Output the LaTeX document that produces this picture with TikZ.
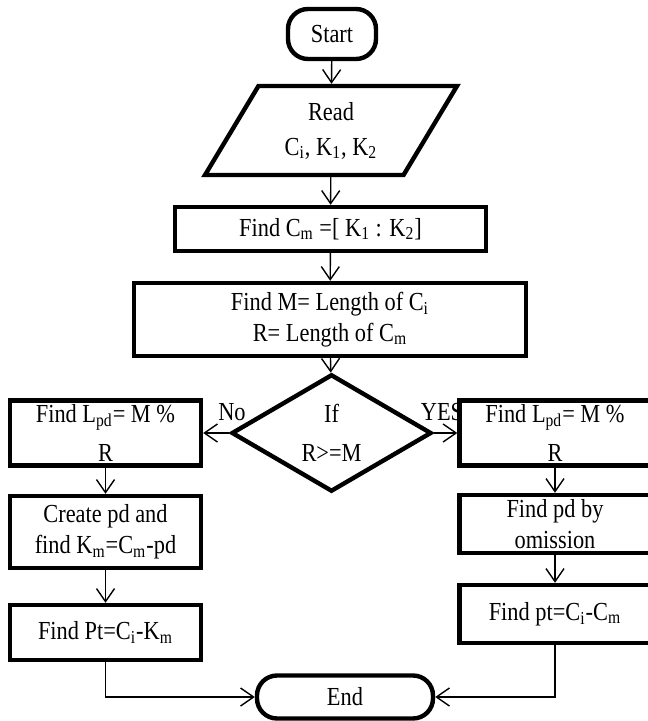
\documentclass[tikz,border=0pt]{standalone}
\usepackage{fontspec}
\setmainfont{Liberation Serif}[FakeStretch=0.86]
\usetikzlibrary{shapes.geometric,arrows.meta}

\tikzset{
  blk/.style={draw, line width=2.2pt, rectangle, align=center, inner sep=2pt},
  term/.style={blk, rounded corners=10pt},
  io/.style={draw, line width=2.2pt, trapezium, trapezium left angle=61, trapezium right angle=119,
             trapezium stretches=true, align=center},
  decide/.style={draw, line width=2.2pt, diamond, align=center, inner sep=0pt},
  flow/.style={line width=0.7pt, -{Straight Barb[length=6.5pt,width=9pt]}},
  lbl/.style={inner sep=0pt}
}

\begin{document}
\begin{tikzpicture}[x=0.5pt,y=-0.5pt,font=\fontsize{13}{15.5}\selectfont]
 \useasboundingbox (0,0) rectangle (647,721);

 \node[term, minimum width=44pt, minimum height=25pt] (start) at (332,34) {Start};
 \node[io, minimum width=127pt, minimum height=44.5pt] (read) at (331,130.5) {Read\\[2pt]C\textsubscript{i}, K\textsubscript{1}, K\textsubscript{2}};
 \node[blk, minimum width=155.5pt, minimum height=22pt] (findcm) at (330.5,229) {Find C\textsubscript{m} =[ K\textsubscript{1} : K\textsubscript{2}]};
 \node[blk, minimum width=196pt, minimum height=36.5pt] (findm) at (330,319.5) {Find M= Length of C\textsubscript{i}\\R= Length of C\textsubscript{m}};
 \node[decide, minimum width=100pt, minimum height=43pt] (cond) at (331.5,433) {If\\[4pt]R>=M};

 % NO branch
 \node[blk, minimum width=95.5pt, minimum height=28pt] (lpdl) at (105.5,433) {Find L\textsubscript{pd}= M \%\\[4pt]R};
 \node[blk, minimum width=95.5pt, minimum height=36pt] (create) at (105.5,532) {Create pd and\\find K\textsubscript{m}=C\textsubscript{m}-pd};
 \node[blk, minimum width=95.5pt, minimum height=27.5pt] (findpt) at (105.5,632.5) {Find Pt=C\textsubscript{i}-K\textsubscript{m}};

 % YES branch
 \node[blk, minimum width=95.5pt, minimum height=28pt] (lpdr) at (555,433) {Find L\textsubscript{pd}= M \%\\[4pt]R};
 \node[blk, minimum width=95.5pt, minimum height=29pt] (omit) at (555,524) {Find pd by\\omission};
 \node[blk, minimum width=95.5pt, minimum height=29pt] (ptr) at (555,614) {Find pt=C\textsubscript{i}-C\textsubscript{m}};

 \node[term, minimum width=88pt, minimum height=21.5pt] (theend) at (345,697) {End};

 \node[lbl] (no) at (232,412) {No};
 \node[lbl] (yes) at (442,412) {YES};

 \draw[flow] (start) -- (read);
 \draw[flow] (read) -- (findcm);
 \draw[flow] (findcm) -- (findm);
 \draw[flow] (findm) -- (cond);
 \draw[flow] (cond) -- (lpdl);
 \draw[flow] (cond) -- (lpdr);
 \draw[flow] (lpdl) -- (create);
 \draw[flow] (create) -- (findpt);
 \draw[flow] (lpdr) -- (omit);
 \draw[flow] (omit) -- (ptr);
 \draw[flow] (findpt) |- (theend);
 \draw[flow] (ptr) |- (theend);
\end{tikzpicture}
\end{document}
